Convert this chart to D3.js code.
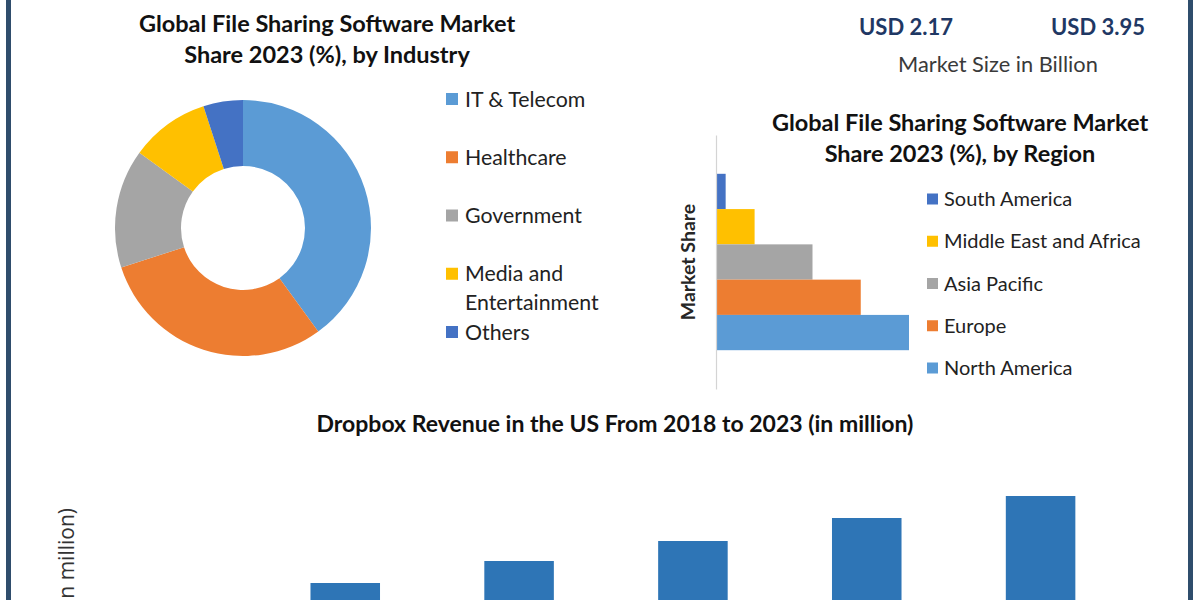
<!DOCTYPE html>
<html>
<head>
<meta charset="utf-8">
<script src="https://cdn.jsdelivr.net/npm/d3@7"></script>
<style>
  html, body { margin: 0; padding: 0; background: #ffffff; }
  svg { display: block; }
</style>
</head>
<body>
<svg id="chart" width="1200" height="600"></svg>
<script>
// ---------------- DATA ----------------
const industries = ["IT & Telecom", "Healthcare", "Government", "Media and Entertainment", "Others"];
const industryLegendLines = [["IT & Telecom"], ["Healthcare"], ["Government"], ["Media and", "Entertainment"], ["Others"]];
const industryShare = [40, 30, 15, 10, 5];

const regions = ["South America", "Middle East and Africa", "Asia Pacific", "Europe", "North America"];
const regionShare = [2, 8, 20, 30, 40];

const years = ["2018", "2019", "2020", "2021", "2022", "2023"];
const revenue = [540, 628, 716, 796, 888, 976];

const marketSizeLabels = ["USD 2.17", "USD 3.95"];
const marketSizeCaption = "Market Size in Billion";

// ---------------- STYLE ----------------
const officeColors = { blue: "#5b9bd5", orange: "#ed7d31", gray: "#a5a5a5", yellow: "#ffc000", dblue: "#4472c4" };
const industryColors = [officeColors.blue, officeColors.orange, officeColors.gray, officeColors.yellow, officeColors.dblue];
const regionColors = [officeColors.dblue, officeColors.yellow, officeColors.gray, officeColors.orange, officeColors.blue];
const barColor = "#2e75b6";
const FONT = "Lato, 'Open Sans', sans-serif";

const svg = d3.select("#chart");
svg.append("rect").attr("width", 1200).attr("height", 600).attr("fill", "#ffffff");

// frame bars
svg.append("rect").attr("x", 6).attr("y", 0).attr("width", 5).attr("height", 600).attr("fill", "#2f4d6c");
svg.append("rect").attr("x", 1188).attr("y", 0).attr("width", 5).attr("height", 600).attr("fill", "#2f4d6c");

// ---------------- DONUT ----------------
const titleStyle = sel => sel.attr("font-family", FONT).attr("font-weight", 700)
  .attr("font-size", 23.5).attr("fill", "#111").attr("text-anchor", "middle");

svg.append("text").call(titleStyle).attr("x", 327).attr("y", 32).text("Global File Sharing Software Market");
svg.append("text").call(titleStyle).attr("x", 327).attr("y", 63).text("Share 2023 (%), by Industry");

const pie = d3.pie().sort(null).value(d => d);
const arc = d3.arc().innerRadius(62).outerRadius(128);
const donut = svg.append("g").attr("transform", "translate(243,228)");
donut.selectAll("path").data(pie(industryShare)).join("path")
  .attr("d", arc).attr("fill", (d, i) => industryColors[i]);

const legY = d3.scalePoint().domain(industries).range([99, 332]);
const leg1 = svg.append("g");
industries.forEach((name, i) => {
  const y = legY(name);
  leg1.append("rect").attr("x", 446).attr("y", y - 6).attr("width", 12).attr("height", 12).attr("fill", industryColors[i]);
  industryLegendLines[i].forEach((line, j) => {
    leg1.append("text").attr("x", 465).attr("y", y + j * 29).attr("dy", "0.36em")
      .attr("font-family", FONT).attr("font-size", 21.3).attr("fill", "#222").text(line);
  });
});

// ---------------- MARKET SIZE ----------------
const usdX = [906, 1098];
marketSizeLabels.forEach((t, i) => {
  svg.append("text").attr("x", usdX[i]).attr("y", 35).attr("text-anchor", "middle")
    .attr("font-family", FONT).attr("font-weight", 700).attr("font-size", 22).attr("fill", "#1f3864").text(t);
});
svg.append("text").attr("x", 998).attr("y", 72).attr("text-anchor", "middle")
  .attr("font-family", FONT).attr("font-size", 21.8).attr("fill", "#3a3a3a").text(marketSizeCaption);

// ---------------- REGION BARS ----------------
svg.append("text").call(titleStyle).attr("x", 960).attr("y", 131).text("Global File Sharing Software Market");
svg.append("text").call(titleStyle).attr("x", 960).attr("y", 162).text("Share 2023 (%), by Region");

const ry = d3.scaleBand().domain(regions).range([135, 389]).paddingInner(0).paddingOuter(1.1);
const rx = d3.scaleLinear().domain([0, 40]).range([716, 909]);

svg.append("g").selectAll("rect").data(regions).join("rect")
  .attr("x", rx(0)).attr("y", d => ry(d)).attr("height", ry.bandwidth())
  .attr("width", (d, i) => rx(regionShare[i]) - rx(0)).attr("fill", (d, i) => regionColors[i]);

const rAxis = svg.append("g").attr("transform", `translate(${rx(0)},0)`)
  .call(d3.axisLeft(ry).tickSize(0).tickFormat(""));
rAxis.select(".domain").attr("stroke", "#d4d4d4").attr("stroke-width", 1.2);

svg.append("text").attr("transform", "translate(695,262) rotate(-90)").attr("text-anchor", "middle")
  .attr("font-family", FONT).attr("font-weight", 700).attr("font-size", 19.5).attr("fill", "#262626").text("Market Share");

const legY2 = d3.scalePoint().domain(regions).range([199, 368]);
const leg2 = svg.append("g");
regions.forEach((name, i) => {
  const y = legY2(name);
  leg2.append("rect").attr("x", 927).attr("y", y - 5.5).attr("width", 11).attr("height", 11).attr("fill", regionColors[i]);
  leg2.append("text").attr("x", 944).attr("y", y).attr("dy", "0.36em")
    .attr("font-family", FONT).attr("font-size", 20).attr("fill", "#222").text(name);
});

// ---------------- REVENUE BARS ----------------
svg.append("text").attr("x", 615).attr("y", 432).attr("text-anchor", "middle")
  .attr("font-family", FONT).attr("font-weight", 700).attr("font-size", 23).attr("fill", "#111")
  .text("Dropbox Revenue in the US From 2018 to 2023 (in million)");

const bx = d3.scaleBand().domain(years).range([84.5, 1127.5]).paddingInner(0.6).paddingOuter(0.3);
const by = d3.scaleLinear().domain([0, 1000]).range([740, 490]);

svg.append("g").selectAll("rect").data(years).join("rect")
  .attr("x", d => bx(d)).attr("width", bx.bandwidth())
  .attr("y", (d, i) => by(revenue[i])).attr("height", (d, i) => by(0) - by(revenue[i]))
  .attr("fill", barColor);

svg.append("text").attr("transform", "translate(74,508) rotate(-90)").attr("text-anchor", "end")
  .attr("font-family", "'Open Sans', sans-serif").attr("font-size", 21).attr("fill", "#333").text("Revenue (in million)");
</script>
</body>
</html>
